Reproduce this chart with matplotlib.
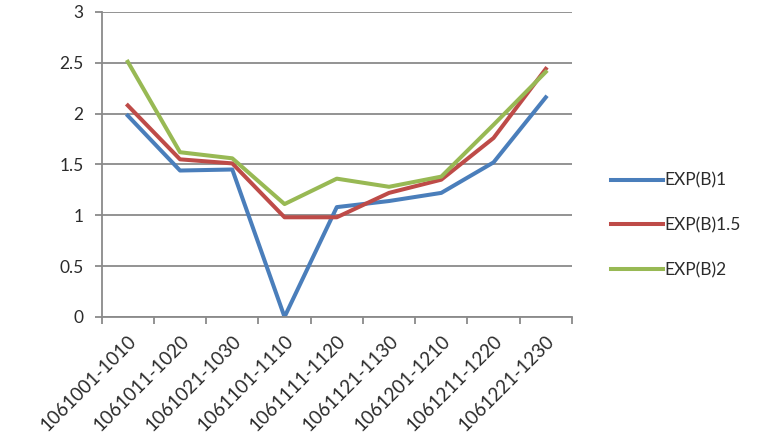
import matplotlib
matplotlib.use("Agg")
import matplotlib.pyplot as plt
import numpy as np

periods = ["1061001-1010", "1061011-1020", "1061021-1030", "1061101-1110",
           "1061111-1120", "1061121-1130", "1061201-1210", "1061211-1220",
           "1061221-1230"]
exp_b1 = [1.98, 1.44, 1.45, 0.0, 1.08, 1.14, 1.22, 1.52, 2.16]
exp_b15 = [2.08, 1.55, 1.51, 0.98, 0.98, 1.22, 1.35, 1.76, 2.44]
exp_b2 = [2.51, 1.62, 1.56, 1.11, 1.36, 1.28, 1.38, 1.89, 2.41]

plt.rcParams["font.family"] = ["Lato", "DejaVu Sans"]

fig = plt.figure(figsize=(7.76, 4.42), dpi=100)
ax = fig.add_axes([0.131, 0.283, 0.606, 0.690])

x = np.arange(len(periods))
ax.plot(x, exp_b1, color="#4A7EBB", lw=2.9, label="EXP(B)1")
ax.plot(x, exp_b15, color="#BE4B48", lw=2.9, label="EXP(B)1.5")
ax.plot(x, exp_b2, color="#98B954", lw=2.9, label="EXP(B)2")

ax.set_xlim(-0.5, len(periods) - 0.5)
ax.set_ylim(0, 3)
ax.set_yticks(np.arange(0, 3.01, 0.5))
ax.set_yticklabels(["0", "0.5", "1", "1.5", "2", "2.5", "3"])
ax.yaxis.grid(True, color="#8a8a8a", lw=1.3)
ax.set_axisbelow(True)

ax.set_xticks(x)
ax.set_xticklabels(periods, rotation=45, ha="right", rotation_mode="anchor")
ax.set_xticks(np.arange(-0.5, len(periods)), minor=True)
ax.tick_params(axis="x", which="major", length=0, pad=11, labelsize=13.5, colors="#2b2b2b")
ax.tick_params(axis="x", which="minor", length=5, width=1.3, color="#8a8a8a")
ax.tick_params(axis="y", length=5, width=1.3, color="#8a8a8a", labelsize=12.5,
               labelcolor="#2b2b2b", pad=8)

for side in ["top", "right"]:
    ax.spines[side].set_visible(False)
for side in ["left", "bottom"]:
    ax.spines[side].set_color("#8a8a8a")
    ax.spines[side].set_linewidth(1.3)

ax.legend(loc="center left", bbox_to_anchor=(1.05, 0.30), frameon=False,
          fontsize=12.5, handlelength=3.0, handletextpad=0.1, labelspacing=1.65,
          labelcolor="#2b2b2b")

fig.savefig("out.png", dpi=100)
